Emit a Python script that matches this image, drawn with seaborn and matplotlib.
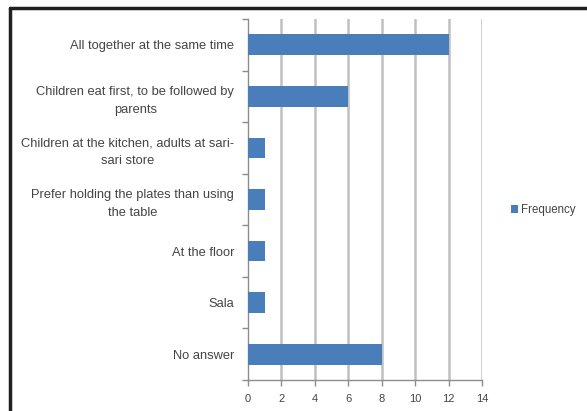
import matplotlib
matplotlib.use("Agg")
import matplotlib.pyplot as plt
from matplotlib.lines import Line2D
from matplotlib.patches import Patch
import seaborn as sns
import pandas as pd

categories = [
    "All together at the same time",
    "Children eat first, to be followed by\nparents",
    "Children at the kitchen, adults at sari-\nsari store",
    "Prefer holding the plates than using\nthe table",
    "At the floor",
    "Sala",
    "No answer",
]
frequency = [12, 6, 1, 1, 1, 1, 8]
x_ticks = [0, 2, 4, 6, 8, 10, 12, 14]
series_name = "Frequency"

df = pd.DataFrame({"Category": categories, series_name: frequency})

sns.set_theme(style="white")
plt.rcParams["font.family"] = ["Liberation Sans", "DejaVu Sans"]

W, H = 587, 411
fig = plt.figure(figsize=(W / 100, H / 100), dpi=100)
ax = fig.add_axes([248 / W, 1 - 380 / H, (482 - 248) / W, (380 - 19) / H])

bar_color = "#4a7ebb"
text_color = "#444444"
axis_color = "#8c8c8c"

sns.barplot(data=df, y="Category", x=series_name, orient="h", color=bar_color,
            width=0.4, ax=ax, saturation=1, zorder=3, edgecolor="none")

ax.set_xlim(0, 14)
ax.set_ylim(len(categories) - 0.5, -0.5)
ax.set_xticks(x_ticks)
ax.set_xticklabels([str(t) for t in x_ticks], fontsize=8, color=text_color)
ax.set_xlabel("")
ax.set_ylabel("")
ax.set_yticks(range(len(categories)))
ax.set_yticklabels(categories, fontsize=9.3, color=text_color, ha="right",
                   multialignment="center", linespacing=1.65)

# vertical gridlines at each major tick
for t in x_ticks[1:]:
    ax.axvline(t, color="#c0c0c0", lw=1.8, zorder=1)

for side in ["top", "right"]:
    ax.spines[side].set_visible(False)
for side in ["left", "bottom"]:
    ax.spines[side].set_color(axis_color)
    ax.spines[side].set_linewidth(1.0)

# category boundary ticks on the value axis, outward
ax.set_yticks([i - 0.5 for i in range(len(categories) + 1)], minor=True)
ax.tick_params(axis="y", which="major", length=0, pad=10)
ax.tick_params(axis="y", which="minor", length=4, color=axis_color, width=1,
               direction="out", left=True)
ax.tick_params(axis="x", which="major", length=4, color=axis_color, width=1,
               direction="out", bottom=True, pad=6)

# legend on the right
handle = Patch(facecolor=bar_color, edgecolor="none")
fig.legend([handle], [series_name], loc="center left",
           bbox_to_anchor=(509 / W, 1 - 210 / H), frameon=False,
           fontsize=8.3, handlelength=0.6, handleheight=0.6,
           handletextpad=0.2, labelcolor=text_color, borderaxespad=0,
           borderpad=0.2)

# dark outer frame along top and left
fig.add_artist(Line2D([10 / W, 1], [1 - 8 / H, 1 - 8 / H], color="#202020", lw=2.5,
                      transform=fig.transFigure))
fig.add_artist(Line2D([10 / W, 10 / W], [0, 1 - 8 / H], color="#202020", lw=2.5,
                      transform=fig.transFigure))

fig.savefig("out.png", dpi=100)
